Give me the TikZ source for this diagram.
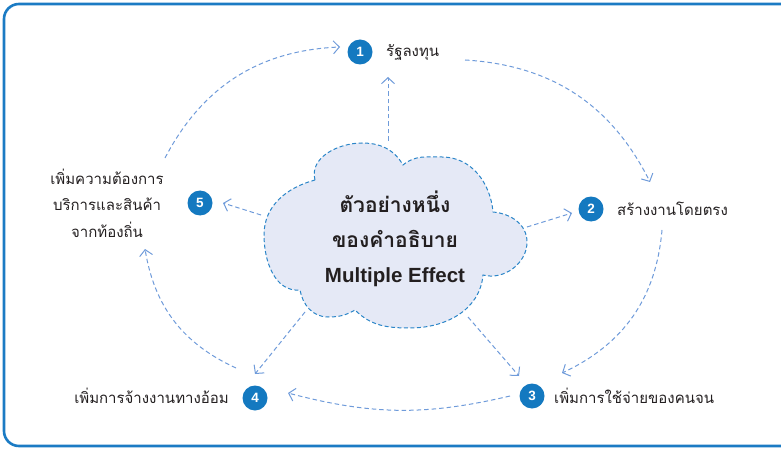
\documentclass[tikz,border=0pt]{standalone}
\usepackage{fontspec}
\setmainfont{Liberation Sans}
\newfontfamily\thai[Script=Thai]{Loma}
\usetikzlibrary{arrows.meta}
\definecolor{framec}{HTML}{1B7BC4}
\definecolor{numc}{HTML}{1479C0}
\definecolor{cloudfill}{HTML}{E5E9F6}
\definecolor{cloudline}{HTML}{2A85C8}
\definecolor{arrc}{HTML}{6F9BDA}
\definecolor{txtc}{HTML}{231F20}
\tikzset{
  num/.style={circle,fill=numc,text=white,minimum size=25pt,inner sep=0pt,font=\bfseries\fontsize{13.5}{13.5}\selectfont},
  lbl/.style={text=txtc,font=\thai\fontsize{15}{18}\selectfont,inner sep=0pt},
  flow/.style={draw=arrc,line width=1pt,dash pattern=on 4.5pt off 3pt,-{Straight Barb[length=6pt,width=13pt]}},
}
\begin{document}
\begin{tikzpicture}[x=1pt,y=1pt]
\useasboundingbox (0,-449) rectangle (781,0);
\begin{scope}
\clip (0,-449) rectangle (781,0);
\draw[framec,line width=2.6pt,rounded corners=15pt] (4,-4) rectangle (796,-446);
\end{scope}
% cloud
\draw[fill=cloudfill,draw=cloudline,line width=1pt,dash pattern=on 4pt off 2.5pt]
 (315,-180) to[out=105,in=180] (362,-143) to[out=0,in=120] (403,-165)
 to[out=40,in=180] (442,-157) to[out=0,in=95] (493,-212)
 to[out=-5,in=90] (527,-242) to[out=-90,in=-15] (483,-275)
 to[out=-95,in=0] (410,-328) to[out=180,in=-45] (355,-310)
 to[out=-150,in=0] (328,-317) to[out=180,in=-80] (300,-290)
 to[out=185,in=-90] (264,-235) to[out=90,in=195] (315,-180) -- cycle;
\node[align=center,text=txtc,inner sep=0pt,font=\bfseries\fontsize{21}{35}\selectfont] (c) at (395,-239)
 {{\thai ตัวอย่างหนึ่ง}\\
  {\thai ของคำอธิบาย}\\
  {\fontsize{20.5}{35}\selectfont Multiple Effect}};
\coordinate (ct) at (388,-141);
\coordinate (cr) at (527,-227);
\coordinate (cbr) at (468,-317);
\coordinate (cbl) at (305,-312);
\coordinate (cl) at (261,-215);
% numbers
\node[num] (n1) at (360,-52) {1};
\node[num] (n2) at (591,-209) {2};
\node[num] (n3) at (532,-396) {3};
\node[num] (n4) at (255,-398) {4};
\node[num] (n5) at (200,-203) {5};
% labels
\node[lbl,anchor=west] (t1) at (386,-52) {รัฐลงทุน};
\node[lbl,anchor=west] (t2) at (617,-209) {สร้างงานโดยตรง};
\node[lbl,anchor=west] (t3) at (554,-396) {เพิ่มการใช้จ่ายของคนจน};
\node[lbl,anchor=east] (t4) at (229,-396) {เพิ่มการจ้างงานทางอ้อม};
\node[lbl,align=center,font=\thai\fontsize{15}{26.5}\selectfont] (t5) at (107,-203) {เพิ่มความต้องการ\\บริการและสินค้า\\จากท้องถิ่น};
% arrow endpoints
\coordinate (a1s) at (165,-158); \coordinate (a1e) at (340,-47);
\coordinate (a2s) at (465,-60);  \coordinate (a2e) at (650,-182);
\coordinate (a3s) at (662,-230); \coordinate (a3e) at (562,-373);
\coordinate (a4s) at (510,-396); \coordinate (a4e) at (288,-393);
\coordinate (a5s) at (236,-368); \coordinate (a5e) at (145,-249);
\draw[flow] (a1s) to[bend left=30] (a1e);
\draw[flow] (a2s) to[bend left=30] (a2e);
\draw[flow] (a3s) to[bend left=30] (a3e);
\draw[flow] (a4s) to[bend left=14] (a4e);
\draw[flow] (a5s) to[bend left=28] (a5e);
% straight from cloud
\coordinate (s1) at (388,-77);
\coordinate (s2) at (572,-213);
\coordinate (s3) at (519,-376);
\coordinate (s4) at (255,-374);
\coordinate (s5) at (223,-203);
\draw[flow] (ct) -- (s1);
\draw[flow] (cr) -- (s2);
\draw[flow] (cbr) -- (s3);
\draw[flow] (cbl) -- (s4);
\draw[flow] (cl) -- (s5);
\end{tikzpicture}
\end{document}
